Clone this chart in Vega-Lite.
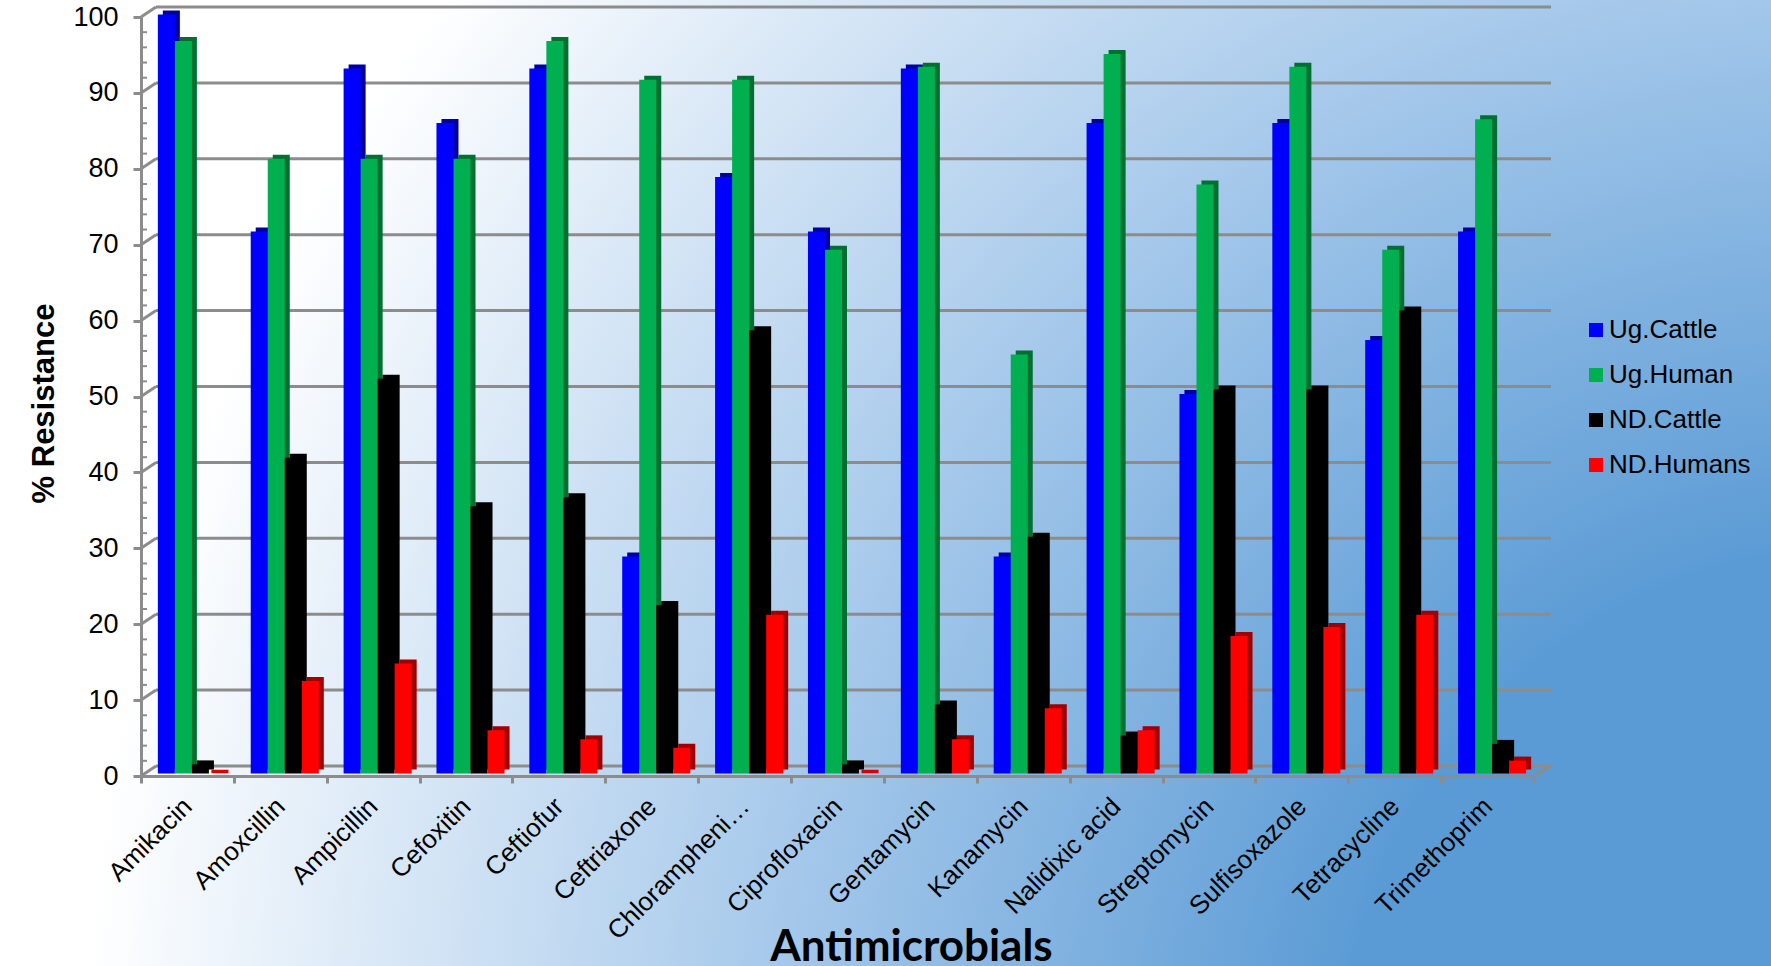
{
"$schema":"https://vega.github.io/schema/vega-lite/v6.json",
"width":1771,"height":966,"padding":0,"autosize":"none",
"view":{"stroke":null,"fill":{"gradient":"radial","x1":1.053,"y1":0.831,"r1":0,"x2":1.053,"y2":0.831,"r2":1.1,"stops":[{"offset":0,"color":"#5b9bd5"},{"offset":0.267,"color":"#5b9bd5"},{"offset":0.551,"color":"#a3c7ea"},{"offset":0.914,"color":"#ffffff"},{"offset":1,"color":"#ffffff"}]}},
"datasets":{
"grid":[{"v":0,"v2":1.32},{"v":10,"v2":11.32},{"v":20,"v2":21.32},{"v":30,"v2":31.32},{"v":40,"v2":41.32},{"v":50,"v2":51.32},{"v":60,"v2":61.32},{"v":70,"v2":71.32},{"v":80,"v2":81.32},{"v":90,"v2":91.32},{"v":100,"v2":101.32}],
"floor":[{"v":0,"v2":1.32}],
"minor":[{"v":2},{"v":4},{"v":6},{"v":8},{"v":12},{"v":14},{"v":16},{"v":18},{"v":22},{"v":24},{"v":26},{"v":28},{"v":32},{"v":34},{"v":36},{"v":38},{"v":42},{"v":44},{"v":46},{"v":48},{"v":52},{"v":54},{"v":56},{"v":58},{"v":62},{"v":64},{"v":66},{"v":68},{"v":72},{"v":74},{"v":76},{"v":78},{"v":82},{"v":84},{"v":86},{"v":88},{"v":92},{"v":94},{"v":96},{"v":98}],
"bars":[
{"drug":"Amikacin","series":"Ug.Cattle","value":100},{"drug":"Amikacin","series":"Ug.Human","value":96.5},{"drug":"Amikacin","series":"ND.Cattle","value":1.2},{"drug":"Amikacin","series":"ND.Humans","value":0},
{"drug":"Amoxcillin","series":"Ug.Cattle","value":71.4},{"drug":"Amoxcillin","series":"Ug.Human","value":81},{"drug":"Amoxcillin","series":"ND.Cattle","value":41.6},{"drug":"Amoxcillin","series":"ND.Humans","value":12.2},
{"drug":"Ampicillin","series":"Ug.Cattle","value":92.9},{"drug":"Ampicillin","series":"Ug.Human","value":81},{"drug":"Ampicillin","series":"ND.Cattle","value":52},{"drug":"Ampicillin","series":"ND.Humans","value":14.5},
{"drug":"Cefoxitin","series":"Ug.Cattle","value":85.7},{"drug":"Cefoxitin","series":"Ug.Human","value":81},{"drug":"Cefoxitin","series":"ND.Cattle","value":35.2},{"drug":"Cefoxitin","series":"ND.Humans","value":5.7},
{"drug":"Ceftiofur","series":"Ug.Cattle","value":92.9},{"drug":"Ceftiofur","series":"Ug.Human","value":96.5},{"drug":"Ceftiofur","series":"ND.Cattle","value":36.4},{"drug":"Ceftiofur","series":"ND.Humans","value":4.5},
{"drug":"Ceftriaxone","series":"Ug.Cattle","value":28.6},{"drug":"Ceftriaxone","series":"Ug.Human","value":91.4},{"drug":"Ceftriaxone","series":"ND.Cattle","value":22.2},{"drug":"Ceftriaxone","series":"ND.Humans","value":3.4},
{"drug":"Chlorampheni…","series":"Ug.Cattle","value":78.6},{"drug":"Chlorampheni…","series":"Ug.Human","value":91.4},{"drug":"Chlorampheni…","series":"ND.Cattle","value":58.4},{"drug":"Chlorampheni…","series":"ND.Humans","value":20.9},
{"drug":"Ciprofloxacin","series":"Ug.Cattle","value":71.4},{"drug":"Ciprofloxacin","series":"Ug.Human","value":69},{"drug":"Ciprofloxacin","series":"ND.Cattle","value":1.2},{"drug":"Ciprofloxacin","series":"ND.Humans","value":0},
{"drug":"Gentamycin","series":"Ug.Cattle","value":92.9},{"drug":"Gentamycin","series":"Ug.Human","value":93.1},{"drug":"Gentamycin","series":"ND.Cattle","value":9.1},{"drug":"Gentamycin","series":"ND.Humans","value":4.5},
{"drug":"Kanamycin","series":"Ug.Cattle","value":28.6},{"drug":"Kanamycin","series":"Ug.Human","value":55.2},{"drug":"Kanamycin","series":"ND.Cattle","value":31.2},{"drug":"Kanamycin","series":"ND.Humans","value":8.6},
{"drug":"Nalidixic acid","series":"Ug.Cattle","value":85.7},{"drug":"Nalidixic acid","series":"Ug.Human","value":94.8},{"drug":"Nalidixic acid","series":"ND.Cattle","value":5},{"drug":"Nalidixic acid","series":"ND.Humans","value":5.7},
{"drug":"Streptomycin","series":"Ug.Cattle","value":50},{"drug":"Streptomycin","series":"Ug.Human","value":77.6},{"drug":"Streptomycin","series":"ND.Cattle","value":50.6},{"drug":"Streptomycin","series":"ND.Humans","value":18.1},
{"drug":"Sulfisoxazole","series":"Ug.Cattle","value":85.7},{"drug":"Sulfisoxazole","series":"Ug.Human","value":93.1},{"drug":"Sulfisoxazole","series":"ND.Cattle","value":50.6},{"drug":"Sulfisoxazole","series":"ND.Humans","value":19.3},
{"drug":"Tetracycline","series":"Ug.Cattle","value":57.1},{"drug":"Tetracycline","series":"Ug.Human","value":69},{"drug":"Tetracycline","series":"ND.Cattle","value":61},{"drug":"Tetracycline","series":"ND.Humans","value":20.9},
{"drug":"Trimethoprim","series":"Ug.Cattle","value":71.4},{"drug":"Trimethoprim","series":"Ug.Human","value":86.2},{"drug":"Trimethoprim","series":"ND.Cattle","value":3.9},{"drug":"Trimethoprim","series":"ND.Humans","value":1.7}
]},
"layer":[
{"data":{"name":"grid"},"mark":{"type":"rule","color":"#8c8c8c","strokeWidth":3},
 "encoding":{"x":{"datum":0,"type":"quantitative","scale":{"domain":[0,1],"range":[156,1551]},"axis":null},"x2":{"datum":1},"y":{"field":"v","type":"quantitative","scale":{"domain":[0,100],"range":[766,7],"nice":false},"axis":null}}},
{"data":{"name":"grid"},"mark":{"type":"rule","color":"#8c8c8c","strokeWidth":3},
 "encoding":{"x":{"datum":0,"type":"quantitative","scale":{"domain":[0,1],"range":[141,156]},"axis":null},"x2":{"datum":1},
 "y":{"field":"v","type":"quantitative","scale":{"domain":[0,100],"range":[776,17],"nice":false},
  "axis":{"orient":"left","offset":-141,"values":[0,10,20,30,40,50,60,70,80,90,100],"grid":false,"domainColor":"#8c8c8c","domainWidth":3,"tickColor":"#8c8c8c","tickWidth":3,"tickSize":8,"labelFont":"Liberation Sans","labelFontSize":27,"labelColor":"#000000","labelPadding":15,"title":"% Resistance","titleFont":"Liberation Sans","titleFontWeight":"bold","titleFontSize":31,"titleColor":"#000000","titleAngle":-90,"titleX":-88,"titleY":403,"titleAlign":"center","titleBaseline":"alphabetic"}},
 "y2":{"field":"v2"}}},
{"data":{"name":"floor"},"mark":{"type":"rule","color":"#8c8c8c","strokeWidth":3},
 "encoding":{"x":{"datum":0,"type":"quantitative","scale":{"domain":[0,1],"range":[1534,1551]},"axis":null},"x2":{"datum":1},"y":{"field":"v","type":"quantitative","scale":{"domain":[0,100],"range":[776,17],"nice":false},"axis":null},"y2":{"field":"v2"}}},
{"data":{"name":"minor"},"mark":{"type":"rule","color":"#8c8c8c","strokeWidth":2},
 "encoding":{"x":{"datum":0,"type":"quantitative","scale":{"domain":[0,1],"range":[141,147]},"axis":null},"x2":{"datum":1},"y":{"field":"v","type":"quantitative","scale":{"domain":[0,100],"range":[776,17],"nice":false},"axis":null}}},
{"data":{"name":"bars"},"mark":{"type":"rule","opacity":0},
 "encoding":{"x":{"field":"drug","type":"nominal","sort":null,"scale":{"range":[141,1534],"paddingInner":0,"paddingOuter":0},
  "axis":{"orient":"bottom","offset":-190,"tickBand":"extent","domainColor":"#8c8c8c","domainWidth":3,"tickColor":"#8c8c8c","tickWidth":3,"tickSize":7,"labelFont":"Liberation Sans","labelFontSize":26,"labelColor":"#000000","labelAngle":-45,"labelAlign":"right","labelBaseline":"middle","labelPadding":19,"labelLimit":400,"labelOverlap":false,"title":"Antimicrobials","titleFont":"Lato","titleFontWeight":"bold","titleFontSize":44,"titleColor":"#000000","titleX":911,"titleY":184,"titleAlign":"center","titleBaseline":"alphabetic"}}}},
{"data":{"name":"bars"},"mark":{"type":"bar"},
 "encoding":{"x":{"field":"drug","type":"nominal","sort":null,"scale":{"range":[150.5,1543.5],"paddingInner":0.267,"paddingOuter":0.133},"axis":null},
 "xOffset":{"field":"series","type":"nominal","sort":null,"scale":{"domain":["Ug.Cattle","Ug.Human","ND.Cattle","ND.Humans"],"padding":0}},
 "y":{"field":"value","type":"quantitative","scale":{"domain":[0,100],"range":[769.5,10.5],"nice":false},"axis":null},
 "color":{"field":"series","type":"nominal","scale":{"domain":["Ug.Cattle","Ug.Human","ND.Cattle","ND.Humans"],"range":["#00009e","#006f32","#000000","#a00000"]},"legend":null}}},
{"data":{"name":"bars"},"transform":[{"filter":"datum.value === 0"}],"mark":{"type":"bar","stroke":"#d80000","strokeWidth":3.5,"fill":"#d80000"},
 "encoding":{"x":{"field":"drug","type":"nominal","sort":null,"scale":{"domain":["Amikacin","Amoxcillin","Ampicillin","Cefoxitin","Ceftiofur","Ceftriaxone","Chlorampheni…","Ciprofloxacin","Gentamycin","Kanamycin","Nalidixic acid","Streptomycin","Sulfisoxazole","Tetracycline","Trimethoprim"],"range":[148,1541],"paddingInner":0.267,"paddingOuter":0.133},"axis":null},
 "xOffset":{"field":"series","type":"nominal","sort":null,"scale":{"domain":["Ug.Cattle","Ug.Human","ND.Cattle","ND.Humans"],"padding":0}},
 "y":{"field":"value","type":"quantitative","scale":{"domain":[0,100],"range":[771.5,12.5],"nice":false},"axis":null}}},
{"data":{"name":"bars"},"mark":{"type":"bar"},
 "encoding":{"x":{"field":"drug","type":"nominal","sort":null,"scale":{"range":[145.5,1538.5],"paddingInner":0.267,"paddingOuter":0.133},"axis":null},
 "xOffset":{"field":"series","type":"nominal","sort":null,"scale":{"domain":["Ug.Cattle","Ug.Human","ND.Cattle","ND.Humans"],"padding":0}},
 "y":{"field":"value","type":"quantitative","scale":{"domain":[0,100],"range":[773.5,14.5],"nice":false},"axis":null},
 "color":{"field":"series","type":"nominal","scale":{"domain":["Ug.Cattle","Ug.Human","ND.Cattle","ND.Humans"],"range":["#0000ff","#00b050","#000000","#ff0000"]},
  "legend":{"orient":"none","legendX":1583,"legendY":317,"title":null,"symbolType":"square","symbolSize":196,"symbolStrokeWidth":0,"labelFont":"Liberation Sans","labelFontSize":26,"labelColor":"#000000","labelOffset":0,"rowPadding":19}}}}
],
"resolve":{"scale":{"x":"independent","y":"independent","xOffset":"independent","color":"independent"},"axis":{"x":"independent","y":"independent"}}
}
